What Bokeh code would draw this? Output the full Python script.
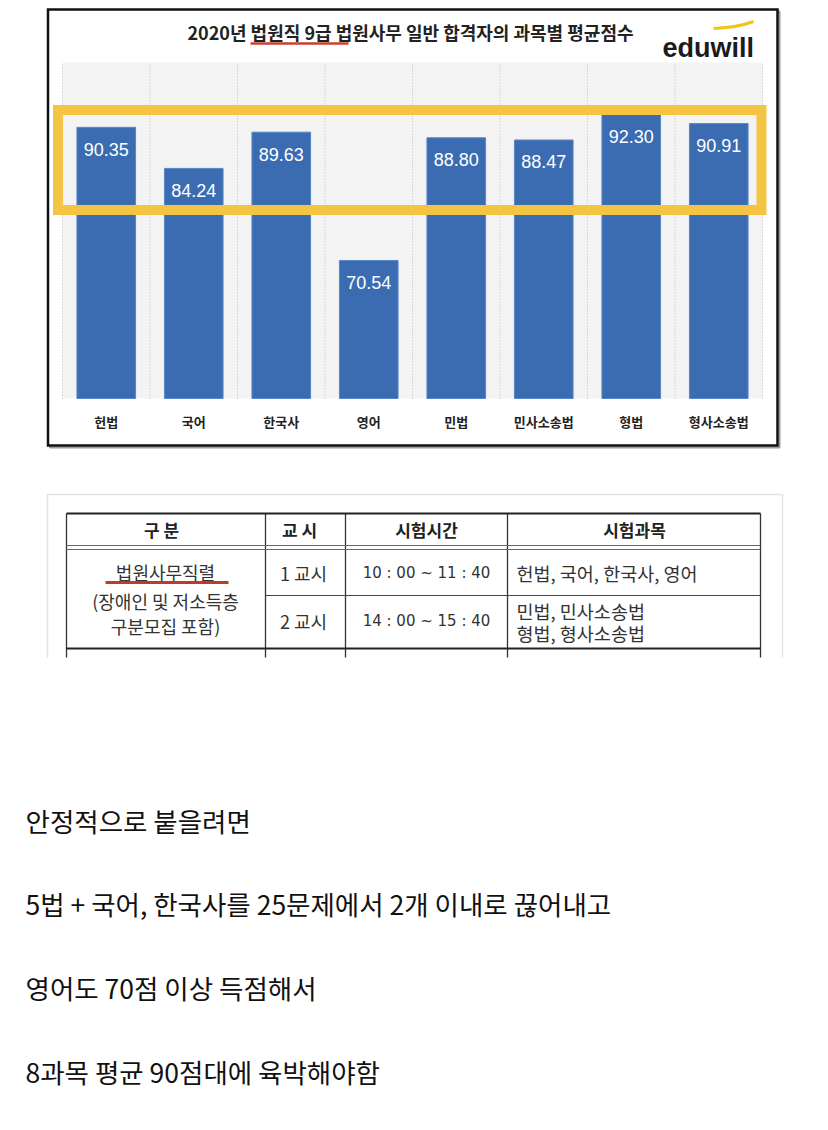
from bokeh.plotting import figure
from bokeh.layouts import column
from bokeh.models import Range1d, ColumnDataSource
from bokeh.core.properties import value
from bokeh.embed import file_html
from bokeh.resources import INLINE

# ---------------- data ----------------
subjects = ["헌법", "국어", "한국사", "영어", "민법", "민사소송법", "형법", "형사소송법"]
scores = [90.35, 84.24, 89.63, 70.54, 88.80, 88.47, 92.30, 90.91]
score_labels = ["90.35", "84.24", "89.63", "70.54", "88.80", "88.47", "92.30", "90.91"]
y_axis_min = 50
y_axis_max = 100

title_text = "2020년 법원직 9급 법원사무 일반 합격자의 과목별 평균점수"
logo_text = "eduwill"

table_header = ["구   분", "교   시", "시험시간", "시험과목"]
group_lines = ["법원사무직렬", "(장애인 및 저소득층", "구분모집 포함)"]
periods = ["1 교시", "2 교시"]
times = ["10 : 00 ~ 11 : 40", "14 : 00 ~ 15 : 40"]
period1_subjects = ["헌법, 국어, 한국사, 영어"]
period2_subjects = ["민법, 민사소송법", "형법, 형사소송법"]

comment_lines = [
    "안정적으로 붙을려면",
    "5법 + 국어, 한국사를 25문제에서 2개 이내로 끊어내고",
    "영어도 70점 이상 득점해서",
    "8과목 평균 90점대에 육박해야함",
]

KR = value("Noto Sans CJK KR")
SANS = value("Liberation Sans")
DEJA = value("DejaVu Sans")

W = 824

# ---------------- chart figure ----------------
# page-pixel helpers for decoration placement (layout only)
PX = 87.5   # px per category
PY = 6.72   # px per score point
def dx(px):
    return -0.5 + (px - 62) / PX
def dy(py):
    return y_axis_min + (398 - py) / PY

H1 = 478
p1 = figure(width=W, height=H1, x_range=Range1d(dx(0), dx(W)),
            y_range=Range1d(dy(H1), dy(0)), output_backend="svg",
            toolbar_location=None, min_border=0)
p1.axis.visible = False
p1.grid.visible = False
p1.outline_line_color = None
p1.background_fill_color = "white"
p1.border_fill_color = "white"

n = len(subjects)
idx = list(range(n))

# outer frame (shadow + border)
p1.quad(left=dx(49.5), right=dx(779), top=dy(11), bottom=dy(447),
        fill_color=None, line_color="#9a9a9a", line_width=2)
p1.quad(left=dx(47.5), right=dx(777), top=dy(9), bottom=dy(445),
        fill_color="white", line_color="#111111", line_width=2.5, line_join="miter")

# plot area
p1.quad(left=-0.5, right=n - 0.5, bottom=y_axis_min, top=y_axis_max,
        fill_color="#F3F3F3", line_color=None)
bounds = [i - 0.5 for i in range(n + 1)]
p1.segment(x0=bounds, y0=[y_axis_min] * len(bounds), x1=bounds, y1=[y_axis_max] * len(bounds),
           line_color="#BDBDBD", line_width=1, line_dash="1 2")

src = ColumnDataSource(dict(x=idx, top=scores, lab=score_labels,
                            laby=[s - 22 / PY for s in scores], cat=subjects))
p1.vbar(x="x", top="top", bottom=y_axis_min, width=0.67, source=src,
        fill_color="#3B6CB2", line_color="#5A86C6", line_width=1)
p1.text(x="x", y="laby", text="lab", source=src, text_color="white",
        text_font=SANS, text_font_size="18px", text_align="center", text_baseline="middle")
p1.text(x="x", y=dy(421), text="cat", source=src, text_color="#222222",
        text_font=KR, text_font_style="bold", text_font_size="13px",
        text_align="center", text_baseline="middle")

# yellow highlight box
p1.quad(left=dx(57.5), right=dx(761), top=dy(109.5), bottom=dy(209.5),
        fill_color=None, line_color="#F4C542", line_width=10, line_join="miter")

# title + underline
p1.text(x=[dx(410)], y=[dy(31)], text=[title_text], text_color="#222222",
        text_font=KR, text_font_style="bold", text_font_size="18px",
        text_align="center", text_baseline="middle")
p1.segment(x0=[dx(250)], y0=[dy(43)], x1=[dx(348)], y1=[dy(43)],
           line_color="#C8412F", line_width=2.5)

# logo
p1.text(x=[dx(662)], y=[dy(47)], text=[logo_text], text_color="#1b1b1b",
        text_font=SANS, text_font_style="bold", text_font_size="27px",
        text_align="left", text_baseline="alphabetic")
p1.quadratic(x0=[dx(713)], y0=[dy(28)], x1=[dx(753)], y1=[dy(21)],
             cx=[dx(737)], cy=[dy(27)], line_color="#F0C419", line_width=3)

# ---------------- table + text figure ----------------
H2 = 648
p2 = figure(width=W, height=H2, x_range=Range1d(0, W), y_range=Range1d(H1 + H2, H1),
            output_backend="svg", toolbar_location=None, min_border=0)
p2.axis.visible = False
p2.grid.visible = False
p2.outline_line_color = None
p2.background_fill_color = "white"
p2.border_fill_color = "white"

# faint outer frame of the pasted table image
p2.multi_line(xs=[[47, 47, 782, 782]], ys=[[657, 494, 494, 657]],
              line_color="#E2E2E2", line_width=1.5)

col_lines = [66, 265, 345, 507, 760]
p2.segment(x0=col_lines, y0=[513] * 5, x1=col_lines, y1=[657] * 5,
           line_color="#333333", line_width=1.3)
p2.segment(x0=[66, 66, 66, 265, 66], y0=[513, 545, 549, 595, 648],
           x1=[760, 760, 760, 760, 760], y1=[513, 545, 549, 595, 648],
           line_color=["#222222", "#666666", "#666666", "#444444", "#222222"],
           line_width=[2, 1.2, 1.2, 1, 2])

hx = [165, 303, 426, 634]
p2.text(x=hx, y=[529] * 4, text=table_header, text_color="#222222", text_font=KR,
        text_font_style="bold", text_font_size="17px", text_align="center",
        text_baseline="middle")

p2.text(x=[165] * 3, y=[571, 600, 625], text=group_lines, text_color="#333333",
        text_font=KR, text_font_size="18px", text_align="center", text_baseline="middle")
p2.segment(x0=[105], y0=[582], x1=[228], y1=[582], line_color="#C0392B", line_width=3)

p2.text(x=[303, 303], y=[572, 620], text=periods, text_color="#333333", text_font=KR,
        text_font_size="18px", text_align="center", text_baseline="middle")
p2.text(x=[426, 426], y=[572, 620], text=times, text_color="#333333", text_font=DEJA,
        text_font_size="15px", text_align="center", text_baseline="middle")
p2.text(x=[516], y=[572], text=period1_subjects, text_color="#333333", text_font=KR,
        text_font_size="18.5px", text_align="left", text_baseline="middle")
p2.text(x=[516, 516], y=[610, 632], text=period2_subjects, text_color="#333333", text_font=KR,
        text_font_size="18.5px", text_align="left", text_baseline="middle")

# comment lines
p2.text(x=[25] * 4, y=[820, 903, 987, 1071], text=comment_lines, text_color="#111111",
        text_font=KR, text_font_size="26.5px", text_align="left", text_baseline="middle")

layout = column(p1, p2, spacing=0)
open("out.html", "w").write(file_html(layout, INLINE))
